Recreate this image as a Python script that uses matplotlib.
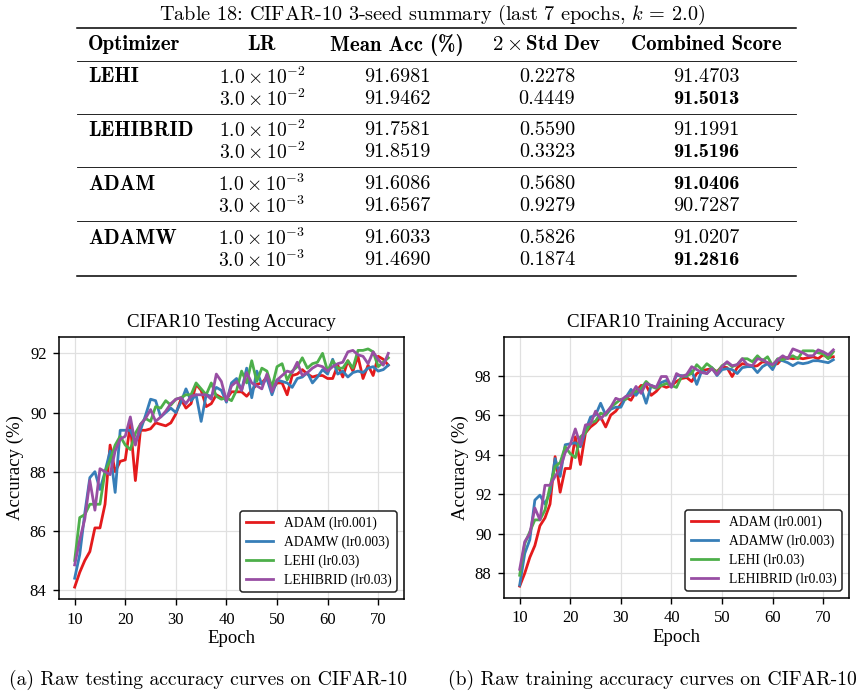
import numpy as np
import matplotlib
matplotlib.use("Agg")
import matplotlib.pyplot as plt
from matplotlib.lines import Line2D

plt.rcParams['font.family'] = ['Liberation Serif', 'DejaVu Serif']
plt.rcParams['mathtext.fontset'] = 'cm'

# ---------------- data ----------------
epochs = list(range(10, 73))

test_adam = [84.1, 84.6, 85.0, 85.3, 86.1, 86.1, 86.9, 88.9, 88.0, 88.35,
             88.4, 89.6, 87.7, 89.4, 89.4, 89.45, 89.65, 89.6, 89.55, 89.65,
             89.95, 90.45, 90.15, 90.3, 90.95, 90.75, 90.2, 90.3, 90.6, 90.5,
             90.45, 90.7, 90.7, 90.7, 90.55, 90.75, 90.95, 91.0, 91.2, 90.75,
             91.0, 91.0, 90.6, 91.25, 91.3, 91.45, 91.3, 91.2, 91.25, 91.25,
             91.15, 91.15, 91.6, 91.2, 91.75, 91.4, 91.9, 91.15, 91.6, 91.25,
             91.9, 91.8, 91.6]
test_adamw = [84.4, 85.2, 86.6, 87.8, 88.0, 87.4, 88.0, 88.7, 87.3, 89.4,
              89.4, 89.4, 89.0, 89.4, 89.9, 90.45, 90.4, 89.85, 90.0, 90.15,
              90.0, 90.35, 90.8, 90.4, 90.6, 89.7, 90.6, 90.55, 90.85, 90.75,
              90.35, 91.0, 91.15, 90.75, 91.5, 90.5, 91.4, 90.95, 91.15, 90.6,
              91.1, 91.05, 91.0, 90.85, 91.15, 91.2, 91.35, 91.0, 91.2, 91.45,
              91.3, 91.8, 91.3, 91.4, 91.2, 91.35, 91.4, 91.35, 91.5, 91.55,
              91.4, 91.45, 91.6]
test_lehi = [85.0, 86.45, 86.55, 86.9, 86.9, 86.9, 88.0, 88.4, 88.9, 89.2,
             88.9, 88.75, 89.3, 89.6, 89.8, 89.7, 90.2, 90.15, 90.4, 90.25,
             90.45, 90.5, 90.6, 90.6, 91.0, 90.8, 90.6, 91.0, 90.55, 90.45,
             90.5, 90.4, 90.75, 91.4, 91.0, 91.75, 91.05, 91.5, 91.4, 90.85,
             91.55, 91.65, 91.1, 91.4, 91.55, 91.85, 91.5, 91.65, 91.7, 92.0,
             91.4, 91.75, 91.5, 91.5, 91.75, 91.5, 92.1, 92.1, 92.15, 92.05,
             91.55, 91.7, 91.85]
test_lehibrid = [84.85, 85.7, 86.4, 87.7, 86.7, 88.1, 88.0, 87.9, 88.7, 89.1,
                 89.2, 89.85, 88.9, 89.6, 89.8, 90.1, 89.7, 89.85, 90.05, 90.3,
                 90.45, 90.5, 90.3, 90.55, 90.6, 90.6, 90.6, 90.45, 91.3, 91.05,
                 90.4, 90.9, 91.05, 90.75, 91.35, 91.0, 90.9, 90.8, 91.3, 90.7,
                 91.1, 91.25, 91.4, 91.35, 91.7, 91.25, 91.35, 91.5, 91.6, 91.55,
                 91.4, 91.55, 91.65, 91.7, 92.05, 92.1, 91.95, 91.9, 91.65, 92.05,
                 91.8, 91.6, 92.0]

train_adam = [87.35, 88.0, 88.8, 89.4, 90.4, 90.8, 91.5, 93.9, 92.1, 93.3,
              93.3, 94.9, 93.5, 95.1, 95.4, 95.6, 95.9, 95.4, 96.0, 96.2,
              96.55, 96.9, 96.75, 97.2, 97.5, 97.5, 97.0, 97.2, 97.5, 97.4,
              97.5, 97.7, 97.85, 97.9, 97.7, 98.1, 98.25, 98.3, 98.35, 98.2,
              98.45, 98.4, 97.95, 98.4, 98.6, 98.55, 98.45, 98.5, 98.7, 98.65,
              98.55, 98.6, 98.9, 98.9, 98.85, 98.9, 98.85, 98.9, 98.95, 98.85,
              99.05, 98.9, 98.95]
train_adamw = [87.4, 89.0, 89.7, 91.7, 91.95, 91.5, 92.1, 93.8, 92.9, 94.5,
               94.55, 94.6, 94.4, 95.2, 95.9, 96.0, 96.6, 96.0, 96.3, 96.4,
               96.4, 96.9, 97.3, 97.0, 97.35, 96.6, 97.5, 97.4, 97.65, 97.75,
               97.45, 98.0, 98.0, 97.95, 98.25, 97.55, 98.25, 98.1, 98.4, 98.0,
               98.3, 98.35, 98.3, 98.1, 98.4, 98.45, 98.45, 98.15, 98.45, 98.6,
               98.3, 98.8, 98.75, 98.65, 98.5, 98.65, 98.6, 98.65, 98.75, 98.75,
               98.7, 98.65, 98.8]
train_lehi = [87.9, 89.5, 90.1, 90.7, 90.7, 91.2, 92.4, 93.4, 93.6, 94.4,
              94.05, 93.85, 94.9, 95.1, 95.6, 95.7, 96.1, 96.0, 96.4, 96.6,
              96.8, 96.8, 97.1, 97.2, 97.35, 97.7, 97.45, 97.35, 97.5, 97.6,
              97.5, 97.4, 97.95, 98.0, 98.1, 98.55, 98.3, 98.6, 98.4, 98.15,
              98.5, 98.65, 98.45, 98.55, 98.85, 98.85, 98.7, 99.0, 98.75, 98.95,
              98.5, 98.85, 98.8, 98.9, 99.0, 98.85, 99.25, 99.25, 99.25, 99.15,
              99.1, 98.85, 99.2]
train_lehibrid = [88.2, 89.6, 90.0, 91.3, 90.7, 92.45, 92.45, 92.9, 93.3, 94.1,
                  94.5, 95.3, 94.5, 95.5, 95.55, 96.2, 95.8, 96.1, 96.4, 96.85,
                  96.75, 96.95, 97.0, 97.45, 97.1, 97.6, 97.5, 97.4, 97.95, 97.95,
                  97.4, 98.1, 97.95, 98.05, 98.45, 98.3, 98.15, 98.1, 98.35, 98.05,
                  98.45, 98.7, 98.5, 98.55, 98.85, 98.55, 98.5, 98.85, 98.8, 98.65,
                  98.55, 98.8, 99.0, 98.85, 99.35, 99.25, 99.15, 99.0, 99.0, 99.3,
                  99.2, 99.05, 99.3]

series_labels = ["ADAM (lr0.001)", "ADAMW (lr0.003)", "LEHI (lr0.03)", "LEHIBRID (lr0.03)"]
series_colors = ["#e41a1c", "#377eb8", "#4daf4a", "#984ea3"]

# table data
table_title = r"Table 18: CIFAR-10 3-seed summary (last 7 epochs, $k$ = 2.0)"
table_headers = ["Optimizer", "LR", "Mean Acc (%)", r"$\mathbf{2}\times\mathbf{Std\ Dev}$", "Combined Score"]
table_optimizers = ["LEHI", "LEHIBRID", "ADAM", "ADAMW"]
table_lr = [[r"$1.0\times10^{-2}$", r"$3.0\times10^{-2}$"],
            [r"$1.0\times10^{-2}$", r"$3.0\times10^{-2}$"],
            [r"$1.0\times10^{-3}$", r"$3.0\times10^{-3}$"],
            [r"$1.0\times10^{-3}$", r"$3.0\times10^{-3}$"]]
table_mean = [["91.6981", "91.9462"], ["91.7581", "91.8519"],
              ["91.6086", "91.6567"], ["91.6033", "91.4690"]]
table_std = [["0.2278", "0.4449"], ["0.5590", "0.3323"],
             ["0.5680", "0.9279"], ["0.5826", "0.1874"]]
table_comb = [["91.4703", "91.5013"], ["91.1991", "91.5196"],
              ["91.0406", "90.7287"], ["91.0207", "91.2816"]]
table_bold = [[False, True], [False, True], [True, False], [False, True]]

captions = ["(a) Raw testing accuracy curves on CIFAR-10",
            "(b) Raw training accuracy curves on CIFAR-10"]

# ---------------- figure ----------------
W, H = 863, 696
fig = plt.figure(figsize=(W / 100, H / 100), dpi=100)


def fx(x):
    return x / W


def fy(y):
    return 1 - y / H


TFS = 14.6
def ttext(x, y, s, ha="center", bold=False, size=TFS):
    fig.text(fx(x), fy(y), s, ha=ha, va="center", fontsize=size,
             family="cmb10" if bold else "cmr10")


def hline(y, lw):
    fig.add_artist(Line2D([fx(77), fx(796)], [fy(y), fy(y)], color="black",
                          lw=lw, transform=fig.transFigure))


ttext(432, 15, table_title)
hline(28, 1.1)
hline(61, 0.6)
col_x = [88, 262, 397, 547, 706]
for i, h in enumerate(table_headers):
    ttext(col_x[i], 45, h, ha="left" if i == 0 else "center", bold=True,
          size=15)

row_y = [[77, 99], [130, 152], [184, 206], [238, 260]]
for g in range(4):
    ttext(col_x[0], row_y[g][0], table_optimizers[g], ha="left", bold=True,
          size=15)
    for r in range(2):
        y = row_y[g][r]
        ttext(col_x[1], y, table_lr[g][r], size=14.2)
        ttext(col_x[2], y, table_mean[g][r])
        ttext(col_x[3], y, table_std[g][r])
        ttext(col_x[4], y, table_comb[g][r], bold=table_bold[g][r])
    if g < 3:
        hline(row_y[g][1] + 15, 0.6)
hline(276, 1.1)

ttext(208, 680, captions[0], size=14.1)
ttext(652, 680, captions[1], size=14.1)

axL = fig.add_axes([fx(59), fy(599), fx(404) - fx(59), fy(337) - fy(599)])
axR = fig.add_axes([fx(504), fy(598), fx(849) - fx(504), fy(337) - fy(598)])

tests = [test_adam, test_adamw, test_lehi, test_lehibrid]
trains = [train_adam, train_adamw, train_lehi, train_lehibrid]

for ax, data, title in [(axL, tests, "CIFAR10 Testing Accuracy"),
                        (axR, trains, "CIFAR10 Training Accuracy")]:
    for vals, lab, col in zip(data, series_labels, series_colors):
        ax.plot(epochs, vals, color=col, lw=2.0, label=lab)
    ax.set_title(title, fontsize=13.6, pad=7)
    ax.set_xlabel("Epoch", fontsize=13.5, labelpad=2)
    ax.set_ylabel("Accuracy (%)", fontsize=13.5)
    ax.set_xticks([10, 20, 30, 40, 50, 60, 70])
    ax.tick_params(labelsize=12, width=1.0, length=4, color="black", pad=5)
    ax.grid(True, color="#e0e0e0", lw=0.9)
    ax.set_axisbelow(True)
    for sp in ax.spines.values():
        sp.set_color("black")
        sp.set_linewidth(1.1)
    leg = ax.legend(loc="lower right", fontsize=9.8, frameon=True,
                    framealpha=1, edgecolor="#222222", fancybox=True,
                    borderpad=0.4, handlelength=2.0, handletextpad=0.8,
                    labelspacing=0.4, borderaxespad=0.5)
    leg.get_frame().set_linewidth(1.1)

axL.set_yticks([84, 86, 88, 90, 92])
axR.set_yticks([88, 90, 92, 94, 96, 98])

fig.savefig("out.png", dpi=100)
